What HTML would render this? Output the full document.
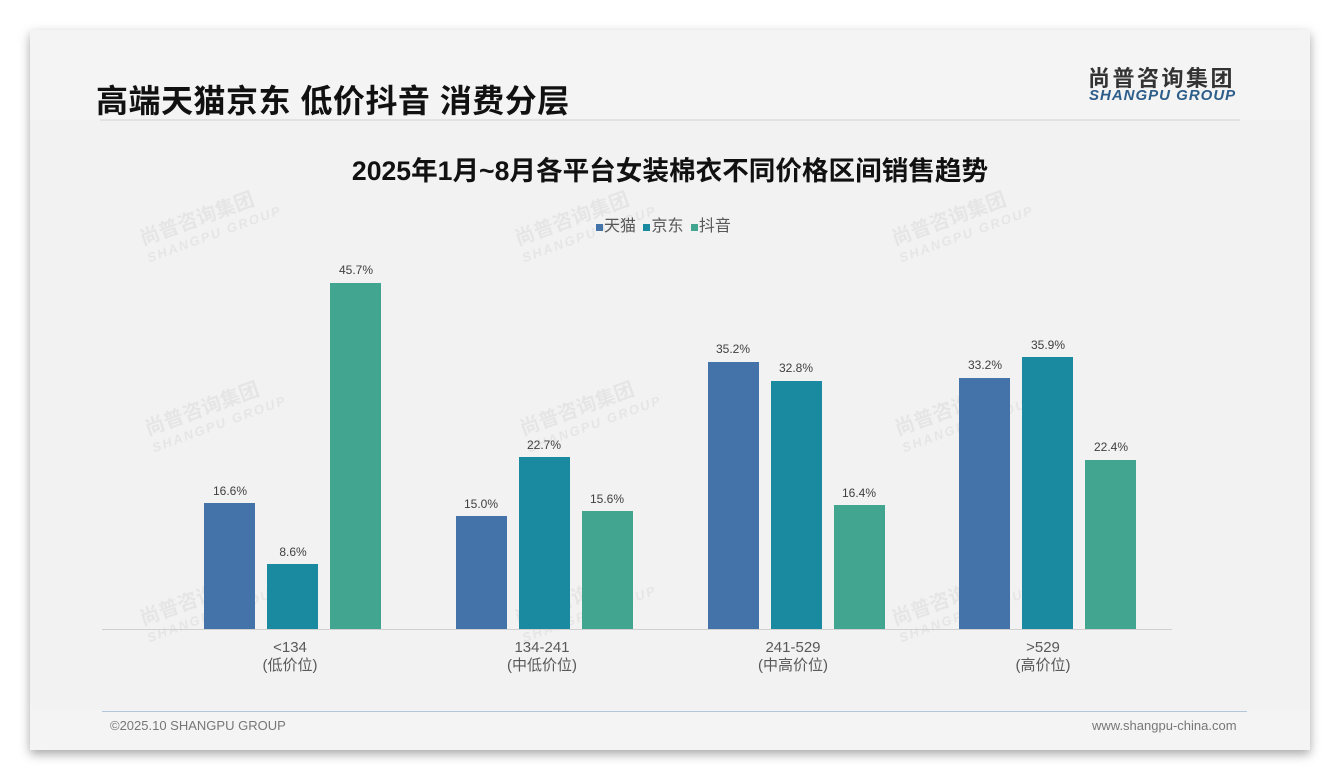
<!DOCTYPE html>
<html><head><meta charset="utf-8"><style>
body{margin:0;width:1340px;height:780px;background:#fff;position:relative;overflow:hidden;font-family:"Liberation Sans","Noto Sans CJK SC",sans-serif}
.card{position:absolute;left:30px;top:30px;width:1280px;height:720px;background:#f4f4f4;box-shadow:0 4px 10px rgba(0,0,0,.35)}
.a{position:absolute}
.bar{position:absolute;width:51px}
.t{background:#4473a9}.j{background:#1a8aa1}.d{background:#42a590}
.lbl{position:absolute;width:60px;text-align:center;font-size:12px;color:#404040}
.x{position:absolute;width:160px;text-align:center;font-size:15px;color:#595959;line-height:18px}
.wm{position:absolute;color:rgba(0,0,0,.05);font-weight:bold;transform:rotate(-20deg);font-size:20px;line-height:20px}
.wm small{display:block;font-size:13px;font-style:italic;letter-spacing:2px}
.sq{display:inline-block;width:7px;height:7px;margin-right:1px}
</style></head><body>
<div class="card"></div>
<div class="a" style="left:30px;top:120px;width:1280px;height:590px;background:#f2f2f2"></div>
<div class="a" style="left:96px;top:76px;font-size:32px;font-weight:bold;color:#111;letter-spacing:0.5px">高端天猫京东 低价抖音 消费分层</div>
<div class="a" style="left:1088px;top:61px;font-size:22px;font-weight:bold;color:#333;letter-spacing:2.5px">尚普咨询集团</div>
<div class="a" style="left:1089px;top:87px;font-size:15px;font-weight:bold;font-style:italic;color:#2d5e8a;letter-spacing:1px">SHANGPU GROUP</div>
<div class="a" style="left:100px;top:119px;width:1140px;height:2px;background:#e2e2e2"></div>
<div class="a" style="left:0;width:1340px;top:149px;text-align:center;font-size:26.6px;font-weight:bold;color:#111">2025年1月~8月各平台女装棉衣不同价格区间销售趋势</div>
<div class="a" style="left:596px;top:212px;font-size:16px;color:#595959;word-spacing:3px">
<span class="sq" style="background:#4473a9"></span>天猫 <span class="sq" style="background:#1a8aa1"></span>京东 <span class="sq" style="background:#42a590"></span>抖音</div>
<div class="wm" style="left:140px;top:205px">尚普咨询集团<small>SHANGPU GROUP</small></div>
<div class="wm" style="left:515px;top:205px">尚普咨询集团<small>SHANGPU GROUP</small></div>
<div class="wm" style="left:892px;top:205px">尚普咨询集团<small>SHANGPU GROUP</small></div>
<div class="wm" style="left:145px;top:395px">尚普咨询集团<small>SHANGPU GROUP</small></div>
<div class="wm" style="left:520px;top:395px">尚普咨询集团<small>SHANGPU GROUP</small></div>
<div class="wm" style="left:895px;top:395px">尚普咨询集团<small>SHANGPU GROUP</small></div>
<div class="wm" style="left:140px;top:585px">尚普咨询集团<small>SHANGPU GROUP</small></div>
<div class="wm" style="left:515px;top:585px">尚普咨询集团<small>SHANGPU GROUP</small></div>
<div class="wm" style="left:892px;top:585px">尚普咨询集团<small>SHANGPU GROUP</small></div>

<div class="bar t" style="left:204px;top:503px;height:126px"></div><div class="lbl" style="left:200px;top:484px">16.6%</div>
<div class="bar j" style="left:267px;top:564px;height:65px"></div><div class="lbl" style="left:263px;top:545px">8.6%</div>
<div class="bar d" style="left:330px;top:283px;height:346px"></div><div class="lbl" style="left:326px;top:263px">45.7%</div>

<div class="bar t" style="left:456px;top:516px;height:113px"></div><div class="lbl" style="left:451px;top:497px">15.0%</div>
<div class="bar j" style="left:519px;top:457px;height:172px"></div><div class="lbl" style="left:514px;top:438px">22.7%</div>
<div class="bar d" style="left:582px;top:511px;height:118px"></div><div class="lbl" style="left:577px;top:492px">15.6%</div>

<div class="bar t" style="left:708px;top:362px;height:267px"></div><div class="lbl" style="left:703px;top:342px">35.2%</div>
<div class="bar j" style="left:771px;top:381px;height:248px"></div><div class="lbl" style="left:766px;top:361px">32.8%</div>
<div class="bar d" style="left:834px;top:505px;height:124px"></div><div class="lbl" style="left:829px;top:486px">16.4%</div>

<div class="bar t" style="left:959px;top:378px;height:251px"></div><div class="lbl" style="left:955px;top:358px">33.2%</div>
<div class="bar j" style="left:1022px;top:357px;height:272px"></div><div class="lbl" style="left:1018px;top:338px">35.9%</div>
<div class="bar d" style="left:1085px;top:460px;height:169px"></div><div class="lbl" style="left:1081px;top:440px">22.4%</div>

<div class="a" style="left:102px;top:629px;width:1070px;height:1px;background:#d0d0d0"></div>
<div class="x" style="left:210px;top:639px">&lt;134<br>(低价位)</div>
<div class="x" style="left:462px;top:639px">134-241<br>(中低价位)</div>
<div class="x" style="left:713px;top:639px">241-529<br>(中高价位)</div>
<div class="x" style="left:963px;top:639px">&gt;529<br>(高价位)</div>

<div class="a" style="left:102px;top:711px;width:1145px;height:1px;background:#b3c6d9"></div>
<div class="a" style="left:110px;top:718px;font-size:13px;color:#777">©2025.10 SHANGPU GROUP</div>
<div class="a" style="left:1092px;top:718px;font-size:13px;color:#777">www.shangpu-china.com</div>
</body></html>
